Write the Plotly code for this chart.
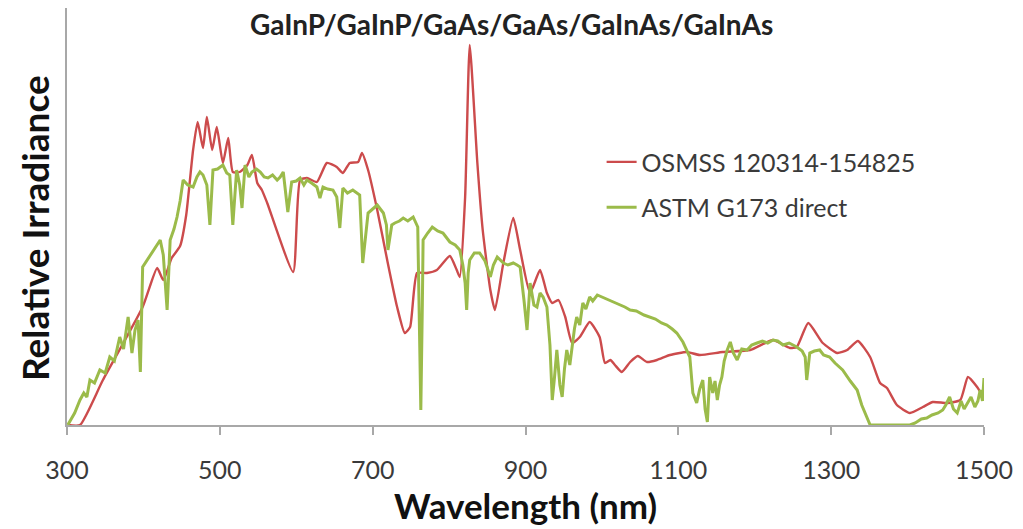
import plotly.graph_objects as go

# ---- data ----
osmss_wl = [301, 317, 347, 399, 418, 426, 437, 448, 456, 465, 471, 478, 483, 490, 496, 504, 511, 517,
            526, 536, 542, 549, 555, 562, 596, 605, 614, 627, 640, 653, 661, 670, 681, 686, 694, 706,
            719, 732, 742, 749, 758, 771, 784, 801, 810, 814, 821, 827, 837, 844, 854, 860, 871, 884,
            893, 906, 919, 928, 935, 943, 952, 961, 971, 984, 997, 1004, 1011, 1017, 1026, 1037, 1047,
            1059, 1072, 1089, 1111, 1128, 1158, 1194, 1224, 1246, 1255, 1270, 1289, 1308, 1321, 1335,
            1351, 1364, 1373, 1386, 1403, 1420, 1433, 1452, 1469, 1479, 1491, 1500]
osmss_val = [0, 0, 11.25, 29.5, 39.25, 36.25, 41.75, 44.75, 52.5, 68.75, 75.75, 69.25, 77, 68.75, 74.5,
             65.5, 71.75, 63.25, 63.25, 65, 67.5, 60.5, 58.75, 55.5, 38.25, 61.25, 61.75, 60.75, 65.5,
             64.5, 63, 65.5, 65.75, 68, 63.75, 53.75, 41.25, 29.5, 23, 24.5, 38, 38, 38.75, 42.25, 38.75,
             37, 57, 95, 65.5, 48.75, 33.75, 28.75, 40.5, 51.75, 43.75, 33, 38.75, 33, 30.5, 31.25, 27,
             20.5, 22, 25.75, 22, 15.5, 16.25, 15, 13.25, 15.75, 17.25, 15.75, 16.25, 17.5, 18.25, 17.5,
             18.25, 18.75, 21.25, 19.25, 19.5, 25.5, 20.5, 18, 18.75, 21, 17, 10.5, 9.25, 5, 3, 4.5,
             5.75, 5.5, 6.25, 12, 9.5, 6.75]

astm_wl = [301, 310, 317, 322, 326, 330, 336, 343, 350, 356, 362, 369, 374, 380, 385, 389, 393, 396,
           399, 404, 409, 413, 418, 422, 426, 431, 435, 440, 444, 448, 452, 458, 465, 470, 474, 478,
           483, 487, 491, 497, 504, 509, 513, 517, 522, 526, 529, 533, 538, 542, 548, 553, 558, 563,
           569, 575, 579, 583, 589, 594, 600, 605, 610, 614, 620, 627, 631, 635, 641, 648, 653, 657,
           661, 667, 674, 679, 683, 687, 694, 700, 706, 710, 714, 718, 720, 725, 729, 735, 740, 746,
           753, 759, 761, 763, 765, 766, 772, 778, 785, 792, 796, 801, 808, 814, 818, 821, 823, 825,
           827, 833, 840, 847, 854, 858, 863, 868, 871, 877, 884, 889, 893, 898, 902, 906, 911, 915,
           919, 923, 928, 932, 935, 938, 941, 945, 948, 951, 954, 958, 961, 964, 967, 971, 975, 979,
           984, 988, 994, 1000, 1011, 1020, 1030, 1037, 1045, 1055, 1063, 1070, 1078, 1085, 1092, 1098,
           1106, 1110, 1115, 1119, 1124, 1128, 1132, 1135, 1138, 1141, 1145, 1148, 1151, 1154, 1157,
           1160, 1164, 1168, 1172, 1177, 1183, 1190, 1196, 1203, 1210, 1217, 1224, 1230, 1237, 1245,
           1255, 1262, 1266, 1268, 1272, 1278, 1285, 1290, 1298, 1305, 1315, 1325, 1334, 1340, 1347,
           1351, 1403, 1410, 1418, 1425, 1432, 1440, 1446, 1450, 1455, 1460, 1465, 1470, 1474, 1478,
           1483, 1488, 1492, 1495, 1498, 1500]
astm_val = [0, 3, 6.25, 8, 7, 11.25, 10.5, 13.75, 13, 17, 16, 22, 19, 27, 18, 23.75, 26.25, 13.25,
            39.5, 41, 42.5, 43.75, 45, 46.25, 42.5, 28.75, 46.25, 49, 52, 56, 61.25, 60, 59.5, 62, 63.25,
            62.5, 60, 50, 63.75, 64, 65, 63, 62.5, 50, 63.75, 60, 54.25, 65, 62, 63.25, 64, 63.25, 62,
            61.75, 62.5, 61.25, 62, 63.25, 53.25, 60.75, 61, 61.75, 60, 61.25, 60.5, 59.5, 56.75, 59.5,
            59, 58.75, 57, 49.25, 59.25, 58, 58.75, 58, 57.5, 40.5, 53, 54, 55, 54, 53, 50, 43.75, 50,
            50.5, 51, 51.75, 51, 52, 49.5, 20, 3.75, 30, 46.25, 48, 49.5, 48.5, 48, 47, 45.75, 45, 43.75,
            40, 35.5, 28.75, 38, 41.25, 43, 43, 41, 37, 40, 42, 41, 40.5, 40, 40.5, 40, 39.5, 31.25,
            23.75, 35.5, 30, 29.5, 33, 32, 29.5, 20, 6.25, 12, 18.75, 10, 7, 14, 18.75, 15, 19.5, 24, 27,
            25, 30.5, 29, 32, 31, 32.5, 32, 31.25, 30.5, 29.5, 28.75, 28.5, 27.5, 27, 26.5, 25.5, 25, 24,
            23, 20.75, 19, 17, 8, 5.5, 9, 11.25, 4, 0.75, 12, 8, 11, 6.25, 10, 12, 16, 18.75, 20.75, 18,
            16.25, 19, 18.75, 20, 20.5, 21, 20.5, 21.25, 21, 20, 20.5, 19.5, 18.5, 17, 11.25, 18, 18.5,
            18.75, 17.5, 17, 15.5, 13.75, 11, 8.75, 5, 2, 0, 0, 0.5, 1.5, 1.75, 2.5, 3, 3.75, 5, 7, 4, 3,
            6, 4, 5.5, 7, 4.5, 6, 8.75, 6, 11.75]

x_ticks = [300, 500, 700, 900, 1100, 1300, 1500]
title_text = "GaInP/GaInP/GaAs/GaAs/GaInAs/GaInAs"
y_title = "Relative Irradiance"
names = ["OSMSS 120314-154825", "ASTM G173 direct"]

RED = "#CC4B4C"
GREEN = "#9BBB4A"
FONT = "Lato"
TXT = "#3A3A3A"

fig = go.Figure()
fig.add_trace(go.Scatter(x=osmss_wl, y=osmss_val, mode="lines", name=names[0], legendgroup="a",
                         line=dict(color=RED, width=2.4, shape="spline", smoothing=0.5)))
fig.add_trace(go.Scatter(x=astm_wl, y=astm_val, mode="lines", name=names[1], legendgroup="b",
                         line=dict(color=GREEN, width=3)))

fig.update_layout(
    width=1023, height=529,
    margin=dict(l=67, r=39, t=8, b=104),
    paper_bgcolor="white", plot_bgcolor="white",
    font=dict(family=FONT, color=TXT),
    showlegend=True,
    legend=dict(x=0.583, y=0.6856, xanchor="left", yanchor="top", bgcolor="rgba(0,0,0,0)",
                font=dict(size=25, color=TXT), tracegroupgap=10, itemwidth=30),
)
fig.add_annotation(text="<b>" + title_text + "</b>", xref="paper", yref="paper",
                   x=(511 - 67) / 917, y=(425 - 24) / 417, xanchor="center", yanchor="middle",
                   showarrow=False, font=dict(size=28, family=FONT, color="#222222"))
fig.add_annotation(text="<b>" + y_title + "</b>", xref="paper", yref="paper",
                   x=(34 - 67) / 917, y=(425 - 228) / 417, xanchor="center", yanchor="middle",
                   textangle=-90, showarrow=False,
                   font=dict(size=37, family=FONT, color="#111111"))

fig.update_xaxes(range=[300, 1500], tickvals=x_ticks, ticktext=[str(t) for t in x_ticks],
                 showgrid=False, zeroline=False, showline=True, linecolor="#A8A8A8", linewidth=1.5,
                 ticks="outside", ticklen=8, tickcolor="#A8A8A8", tickwidth=1.5,
                 tickfont=dict(size=25, color=TXT), ticklabelstandoff=14,
                 title=dict(text="<b>Wavelength (nm)</b>", font=dict(size=35, color="#111111"), standoff=12))
fig.update_yaxes(range=[0, 104.25], showgrid=False, zeroline=False, showline=True, linecolor="#A8A8A8",
                 linewidth=1.5, ticks="", showticklabels=False)

fig.write_html("out.html")
